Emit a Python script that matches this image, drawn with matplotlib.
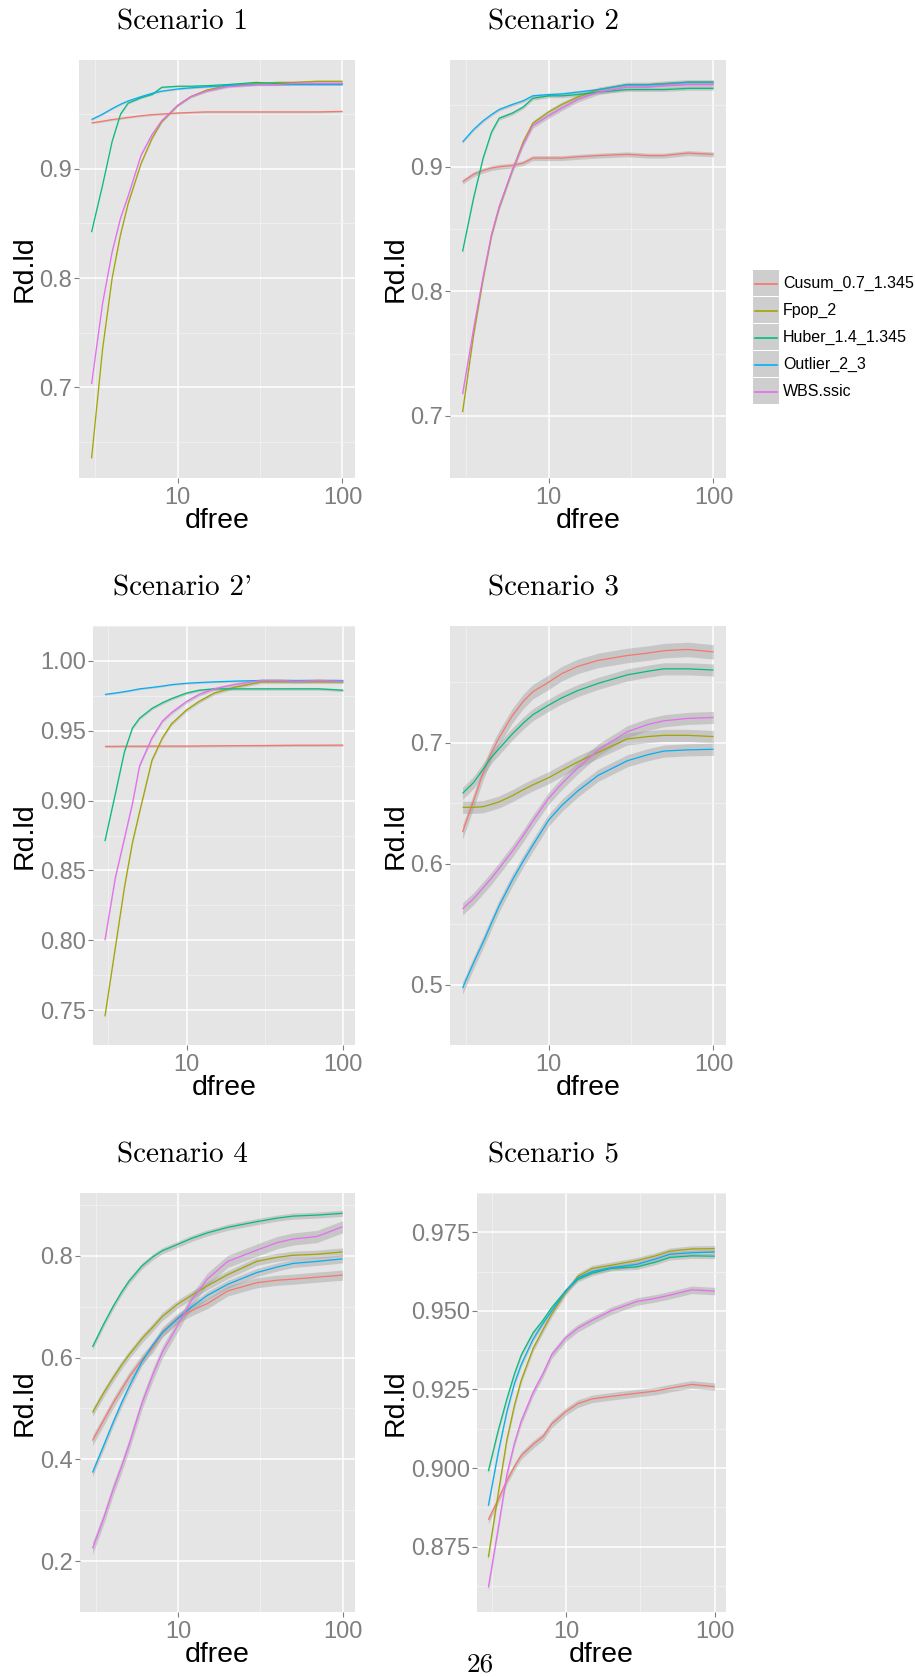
"""
Curvas Rd.ld frente a dfree para seis escenarios (estilo ggplot).
Genera out.png (915x1677 px).
"""

import matplotlib
matplotlib.use("Agg")
import matplotlib.pyplot as plt
from matplotlib.patches import Rectangle
from matplotlib.lines import Line2D
from matplotlib.ticker import NullFormatter
import numpy as np


# ============================================================
# DATOS
# ============================================================

DFREE = [3, 3.5, 4, 4.5, 5, 6, 7, 8, 10, 12, 15, 20, 30, 40, 50, 70, 100]

METHODS = ["Cusum_0.7_1.345", "Fpop_2", "Huber_1.4_1.345", "Outlier_2_3", "WBS.ssic"]
COLORS = ["#F8766D", "#A3A500", "#00BF7D", "#00B0F6", "#E76BF3"]

TITLES = ["Scenario 1", "Scenario 2", "Scenario 2'", "Scenario 3", "Scenario 4", "Scenario 5"]

# Scenario 1
S1_CUSUM = [.942, .9435, .945, .946, .947, .9485, .9495, .950, .951, .9515, .952, .952, .952, .952, .952, .952, .9525]
S1_FPOP = [.635, .735, .800, .840, .868, .905, .928, .943, .958, .966, .972, .976, .978, .979, .979, .980, .980]
S1_HUBER = [.842, .885, .925, .950, .960, .965, .968, .9745, .9755, .9755, .976, .977, .979, .978, .978, .978, .978]
S1_OUTLIER = [.945, .950, .955, .959, .962, .966, .969, .971, .973, .974, .975, .976, .977, .977, .977, .977, .977]
S1_WBS = [.703, .777, .824, .855, .875, .9126, .9315, .944, .958, .966, .971, .975, .977, .977, .978, .978, .978]
S1_SE = [0.0008, 0.001, 0.0008, 0.0008, 0.001]

# Scenario 2
S2_CUSUM = [.888, .894, .897, .899, .900, .901, .903, .907, .907, .907, .908, .909, .910, .909, .909, .911, .910]
S2_FPOP = [.703, .765, .810, .845, .867, .897, .920, .935, .944, .950, .956, .962, .966, .966, .967, .968, .968]
S2_HUBER = [.832, .875, .907, .928, .939, .943, .948, .955, .957, .957, .958, .960, .962, .962, .962, .963, .963]
S2_OUTLIER = [.920, .930, .937, .942, .946, .950, .953, .957, .958, .9585, .960, .962, .966, .966, .9665, .968, .968]
S2_WBS = [.7175, .770, .812, .846, .868, .897, .918, .933, .941, .947, .954, .960, .964, .964, .965, .966, .966]
S2_SE = [0.002, 0.002, 0.0015, 0.0012, 0.002]

# Scenario 2'
S2P_CUSUM = [.9388, .9388, .9389, .9389, .9389, .939, .939, .939, .939, .9391, .9392, .9393, .9394, .9395, .9396, .9396, .9397]
S2P_FPOP = [.7455, .795, .838, .870, .892, .929, .945, .955, .965, .971, .977, .981, .985, .985, .985, .985, .985]
S2P_HUBER = [.871, .905, .935, .952, .959, .966, .970, .973, .977, .979, .980, .980, .980, .980, .980, .980, .979]
S2P_OUTLIER = [.976, .977, .978, .979, .980, .981, .982, .983, .984, .9845, .985, .9855, .986, .986, .986, .986, .986]
S2P_WBS = [.800, .845, .873, .898, .925, .945, .957, .963, .971, .976, .980, .983, .986, .986, .9855, .986, .9855]
S2P_SE = [0.0008, 0.0012, 0.001, 0.0006, 0.0012]

# Scenario 3
S3_CUSUM = [.626, .652, .675, .692, .704, .722, .734, .742, .750, .757, .763, .768, .772, .774, .776, .777, .775]
S3_FPOP = [.6465, .6465, .647, .649, .651, .656, .661, .665, .671, .677, .684, .692, .703, .705, .706, .706, .705]
S3_HUBER = [.658, .667, .678, .688, .695, .707, .716, .723, .731, .737, .743, .749, .756, .759, .761, .761, .760]
S3_OUTLIER = [.497, .518, .535, .551, .565, .586, .602, .615, .636, .648, .660, .673, .685, .690, .693, .694, .6945]
S3_WBS = [.5625, .571, .580, .588, .596, .610, .623, .635, .654, .666, .679, .694, .709, .715, .718, .720, .7208]
S3_SE = [0.006, 0.005, 0.005, 0.005, 0.005]

# Scenario 4
S4_CUSUM = [.437, .476, .510, .537, .561, .596, .620, .650, .678, .692, .706, .731, .747, .752, .754, .758, .762]
S4_FPOP = [.492, .530, .560, .585, .605, .637, .660, .681, .706, .722, .741, .763, .789, .797, .801, .803, .8076]
S4_HUBER = [.621, .665, .700, .728, .750, .780, .798, .810, .823, .834, .845, .856, .867, .874, .878, .880, .8835]
S4_OUTLIER = [.374, .426, .472, .510, .542, .592, .625, .649, .678, .699, .722, .744, .767, .778, .785, .789, .794]
S4_WBS = [.225, .283, .340, .385, .428, .510, .567, .611, .665, .712, .754, .789, .811, .826, .833, .838, .857]
S4_SE = [0.01, 0.008, 0.006, 0.008, 0.012]

# Scenario 5
S5_CUSUM = [.8835, .890, .896, .9005, .904, .9075, .910, .914, .918, .9205, .922, .9228, .9238, .9245, .9254, .9266, .9259]
S5_FPOP = [.8716, .892, .909, .920, .928, .938, .944, .949, .956, .961, .9635, .9645, .966, .9675, .969, .9697, .9698]
S5_HUBER = [.899, .912, .922, .930, .936, .943, .947, .951, .9565, .960, .962, .9635, .964, .9655, .967, .9675, .9674]
S5_OUTLIER = [.888, .905, .918, .927, .933, .941, .946, .950, .9565, .9605, .9625, .9637, .9648, .9665, .968, .9685, .9687]
S5_WBS = [.862, .881, .898, .908, .915, .924, .930, .936, .9415, .9445, .947, .950, .953, .954, .955, .9567, .9563]
S5_SE = [0.0012, 0.001, 0.0008, 0.0008, 0.0012]

SCENARIO_SERIES = [
    [S1_CUSUM, S1_FPOP, S1_HUBER, S1_OUTLIER, S1_WBS],
    [S2_CUSUM, S2_FPOP, S2_HUBER, S2_OUTLIER, S2_WBS],
    [S2P_CUSUM, S2P_FPOP, S2P_HUBER, S2P_OUTLIER, S2P_WBS],
    [S3_CUSUM, S3_FPOP, S3_HUBER, S3_OUTLIER, S3_WBS],
    [S4_CUSUM, S4_FPOP, S4_HUBER, S4_OUTLIER, S4_WBS],
    [S5_CUSUM, S5_FPOP, S5_HUBER, S5_OUTLIER, S5_WBS],
]
SCENARIO_SE = [S1_SE, S2_SE, S2P_SE, S3_SE, S4_SE, S5_SE]

Y_TICKS = [
    [0.7, 0.8, 0.9],
    [0.7, 0.8, 0.9],
    [0.75, 0.80, 0.85, 0.90, 0.95, 1.00],
    [0.5, 0.6, 0.7],
    [0.2, 0.4, 0.6, 0.8],
    [0.875, 0.900, 0.925, 0.950, 0.975],
]
Y_DECIMALS = [1, 1, 2, 1, 1, 3]
Y_LIMITS = [
    (0.617, 0.9995),
    (0.6862, 0.9858),
    (0.7304, 1.0011),
    (0.4755, 0.7964),
    (0.1778, 0.9234),
    (0.8542, 0.9766),
]


# ============================================================
# DISEÑO (pixeles)
# ============================================================

FIG_W = 915
FIG_H = 1677
DPI = 100

# left, right, top, bottom
PANEL_BOXES = [
    (79, 355, 60, 478),
    (450, 726, 60, 478),
    (93, 355, 626, 1045),
    (450, 726, 626, 1045),
    (80, 355, 1193, 1612),
    (477, 726, 1193, 1612),
]
TITLE_X = [182.5, 553]
YLABEL_X = [25, 396]

SANS = ["Liberation Sans", "DejaVu Sans"]
SERIF = ["cmr10", "DejaVu Serif"]
GREY_TEXT = "#7F7F7F"


def fx(x):
    return x / FIG_W


def fy(y):
    return 1 - y / FIG_H


# ============================================================
# PANEL
# ============================================================

def draw_panel(fig, idx):

    left, right, top, bottom = PANEL_BOXES[idx]
    col = idx % 2

    ax = fig.add_axes([fx(left), fy(bottom), (right - left) / FIG_W, (bottom - top) / FIG_H])
    ax.set_facecolor("#E5E5E5")
    for spine in ax.spines.values():
        spine.set_visible(False)

    x = np.array(DFREE, dtype=float)
    for values, se, color in zip(SCENARIO_SERIES[idx], SCENARIO_SE[idx], COLORS):
        y = np.array(values)
        ax.fill_between(x, y - se, y + se, color="#999999", alpha=0.4, lw=0, zorder=2)
    for values, color in zip(SCENARIO_SERIES[idx], COLORS):
        ax.plot(x, values, color=color, lw=0.9, zorder=3, solid_capstyle="butt")

    ax.set_xscale("log")
    lo, hi = np.log10(min(DFREE)), np.log10(max(DFREE))
    pad = 0.05 * (hi - lo)
    ax.set_xlim(10 ** (lo - pad), 10 ** (hi + pad))
    ax.set_xticks([10, 100])
    ax.set_xticklabels(["10", "100"])
    ax.set_xticks([10 ** 0.5, 10 ** 1.5], minor=True)
    ax.xaxis.set_minor_formatter(NullFormatter())

    yt = Y_TICKS[idx]
    ax.set_ylim(*Y_LIMITS[idx])
    ax.set_yticks(yt)
    ax.set_yticklabels([f"{v:.{Y_DECIMALS[idx]}f}" for v in yt])
    step = yt[1] - yt[0]
    minor = [v - step / 2 for v in yt] + [yt[-1] + step / 2]
    ax.set_yticks(minor, minor=True)

    ax.grid(which="major", color="white", lw=1.1)
    ax.grid(which="minor", color="#F2F2F2", lw=0.6)
    ax.set_axisbelow(True)

    ax.tick_params(which="major", length=3.6, width=0.8, color=GREY_TEXT,
                   labelcolor=GREY_TEXT, labelsize=17, pad=1.5)
    ax.tick_params(axis="x", which="major", pad=3)
    ax.tick_params(which="minor", length=0)
    for lab in ax.get_xticklabels() + ax.get_yticklabels():
        lab.set_family(SANS)

    # textos
    fig.text(fx(TITLE_X[col]), fy(top - 30.7), TITLES[idx], family=SERIF,
             fontsize=21, ha="center", va="baseline")
    fig.text(fx((left + right) / 2), fy(bottom + 50), "dfree", family=SANS,
             fontsize=20.5, ha="center", va="baseline")
    fig.text(fx(YLABEL_X[col]), fy((top + bottom) / 2), "Rd.ld", family=SANS,
             fontsize=20.5, rotation=90, ha="center", va="center")


# ============================================================
# LEYENDA
# ============================================================

def draw_legend(fig):

    key_left, key_w, key_h = 753, 26, 27
    top = 270
    for i, (name, color) in enumerate(zip(METHODS, COLORS)):
        y0 = top + i * key_h
        fig.patches.append(Rectangle((fx(key_left), fy(y0 + key_h - 1)), key_w / FIG_W,
                                     (key_h - 1) / FIG_H, transform=fig.transFigure,
                                     facecolor="#CECECE", edgecolor="none"))
        yc = fy(y0 + key_h / 2)
        fig.lines.append(Line2D([fx(key_left + 2), fx(key_left + key_w - 2)], [yc, yc],
                                transform=fig.transFigure, color=color, lw=1.2))
        fig.text(fx(783), yc, name, family=SANS, fontsize=11.5, ha="left", va="center")


# ============================================================
# PRINCIPAL
# ============================================================

def main():

    fig = plt.figure(figsize=(FIG_W / DPI, FIG_H / DPI), dpi=DPI)
    fig.patch.set_facecolor("white")

    for idx in range(len(TITLES)):
        draw_panel(fig, idx)

    draw_legend(fig)

    fig.text(fx(480), fy(1672), "26", family=SERIF, fontsize=19.5,
             ha="center", va="baseline")

    fig.savefig("out.png", dpi=DPI)
    plt.close(fig)
    print("Grafico creado: out.png")


if __name__ == "__main__":
    main()
